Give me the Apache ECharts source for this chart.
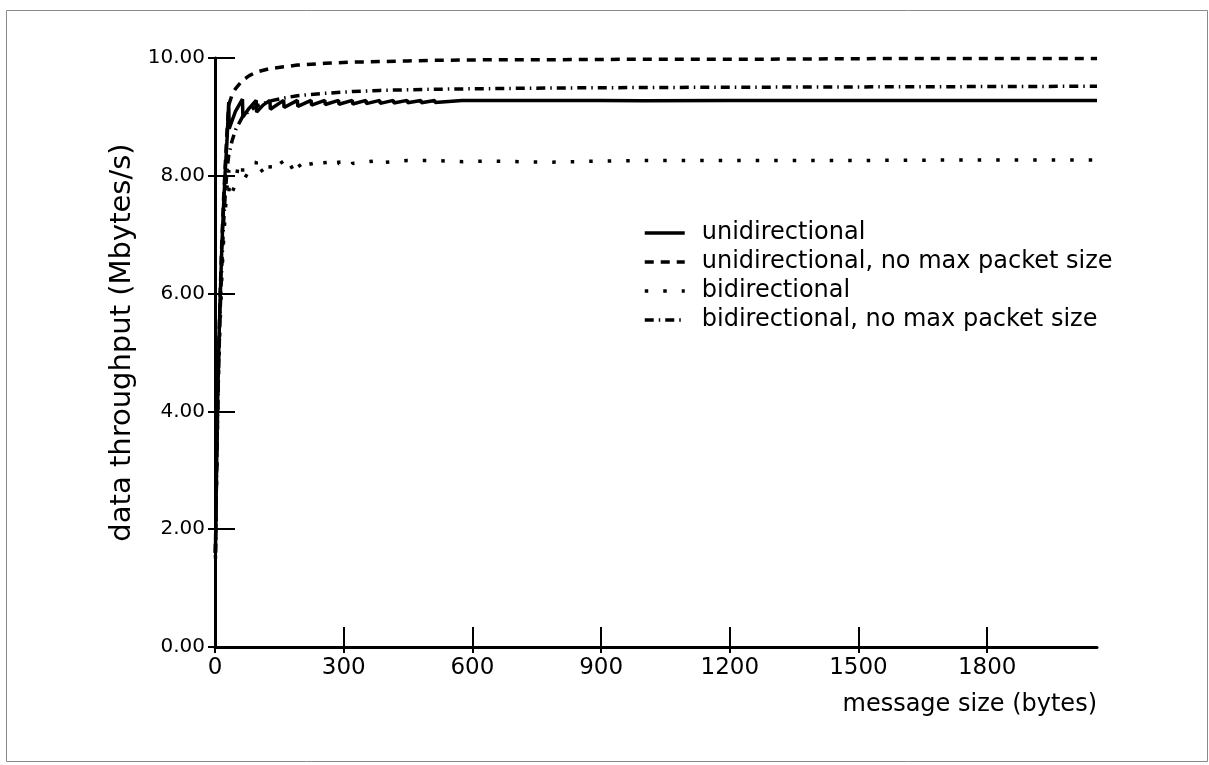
<!DOCTYPE html>
<html>
<head>
<meta charset="utf-8">
<script src="https://cdn.jsdelivr.net/npm/echarts@6/dist/echarts.min.js"></script>
<style>
html,body{margin:0;padding:0;background:#fff;}
#chart{width:1209px;height:765px;}
</style>
</head>
<body>
<div id="chart"></div>
<script>
// ---- data ----
const seriesNames = ['unidirectional', 'unidirectional, no max packet size', 'bidirectional', 'bidirectional, no max packet size'];

const uniX = [1,2,3,4,6,8,10,12,16,20,24,28,32,33,48,64,65,80,96,97,112,128,129,160,161,192,193,224,225,256,257,288,289,320,321,352,353,384,385,416,417,448,449,480,481,512,513,576,577,640,641,704,705,768,769,832,833,896,897,1000,1200,1500,1800,2056];
const uniY = [1.6,2.1,2.7,3.2,4.1,4.8,5.4,5.9,6.8,7.5,8.1,8.6,9.25,8.8,9.1,9.3,9.0,9.15,9.28,9.08,9.2,9.28,9.13,9.28,9.16,9.28,9.18,9.28,9.2,9.28,9.21,9.28,9.215,9.28,9.22,9.28,9.225,9.28,9.23,9.28,9.235,9.28,9.24,9.28,9.24,9.28,9.245,9.28,9.25,9.28,9.25,9.28,9.255,9.28,9.255,9.28,9.26,9.28,9.26,9.276,9.277,9.278,9.28,9.28];

const uniNoMaxX = [1,2,3,4,6,8,10,12,16,20,24,28,32,40,48,64,80,96,128,160,192,256,320,384,448,512,640,768,1024,1280,1536,1792,2056];
const uniNoMaxY = [1.6,2.1,2.7,3.2,4.1,4.8,5.4,6.0,6.9,7.6,8.2,8.75,9.2,9.38,9.48,9.62,9.7,9.76,9.82,9.85,9.88,9.91,9.93,9.94,9.95,9.96,9.97,9.97,9.98,9.98,9.99,9.99,9.99];

const biX = [1,2,3,4,6,8,10,12,16,20,24,28,32,33,48,54,64,65,80,89,96,97,117,128,129,152,160,161,167,190,192,193,221,224,225,256,257,288,289,320,321,384,385,448,449,512,578,640,773,900,1000,1200,1500,1800,2056];
const biY = [1.5,2.0,2.6,3.0,3.9,4.5,5.1,5.5,6.3,6.9,7.4,7.8,8.1,7.62,7.85,8.19,8.22,7.9,8.1,8.19,8.24,8.02,8.13,8.25,8.08,8.21,8.25,8.12,8.10,8.19,8.26,8.15,8.30,8.28,8.17,8.26,8.18,8.26,8.2,8.26,8.21,8.26,8.22,8.26,8.23,8.26,8.24,8.25,8.23,8.25,8.26,8.26,8.26,8.27,8.27];

const biNoMaxX = [1,2,4,8,12,16,20,24,28,32,40,48,64,80,96,128,160,192,256,320,384,448,512,640,768,1024,1280,1536,1792,2056];
const biNoMaxY = [1.6,2.1,3.1,4.6,5.7,6.5,7.2,7.7,8.1,8.35,8.6,8.78,9.0,9.1,9.18,9.27,9.32,9.36,9.4,9.43,9.45,9.46,9.47,9.48,9.49,9.5,9.505,9.51,9.515,9.52];

const xTickValues = [0,300,600,900,1200,1500,1800];

// ---- chart ----
const FONT = 'DejaVu Sans';
const pairs = (xs, ys) => xs.map((x, i) => [x, ys[i]]);

const lineStyles = [
  {color:'#000', width:3.5, type:'solid'},
  {color:'#000', width:3.5, type:[9,7]},
  {color:'#000', width:3.5, type:[3.5,15]},
  {color:'#000', width:3.5, type:[9,5,1.5,5]}
];
const seriesData = [pairs(uniX, uniY), pairs(uniNoMaxX, uniNoMaxY), pairs(biX, biY), pairs(biNoMaxX, biNoMaxY)];

const chart = echarts.init(document.getElementById('chart'), null, {renderer:'canvas'});
const xMin = 0, xMax = 2056;
const option = {
  animation: false,
  backgroundColor: '#fff',
  graphic: [{
    type: 'rect', left: 4, top: 8, z: -10,
    shape: {width: 1201, height: 751},
    style: {fill: 'none', stroke: '#8a8a8a', lineWidth: 1}
  }],
  grid: {left: 215, right: 112, top: 58, bottom: 118, containLabel: false},
  legend: {
    orient: 'vertical', left: 643, top: 221, padding: 0,
    itemWidth: 40, itemHeight: 20, itemGap: 5,
    data: seriesNames,
    itemStyle: {opacity: 0, borderWidth: 0},
    lineStyle: {width: 3.5},
    textStyle: {fontFamily: FONT, fontSize: 24, color: '#000', padding: [0,0,0,12]},
    selectedMode: false
  },
  xAxis: [{
    type: 'value', position: 'bottom', min: xMin, max: xMax, interval: 300,
    name: 'message size (bytes)', nameLocation: 'end', nameGap: 0,
    nameTextStyle: {fontFamily: FONT, fontSize: 24, color: '#000', align: 'right', verticalAlign: 'top', padding: [46,0,0,0]},
    axisLine: {show: true, lineStyle: {color: '#000', width: 3}},
    axisTick: {show: true, inside: true, length: 20, lineStyle: {color: '#000', width: 2}, customValues: xTickValues},
    axisLabel: {fontFamily: FONT, fontSize: 23, color: '#000', margin: 10, customValues: xTickValues, formatter: v => String(v)},
    splitLine: {show: false}
  }, {
    type: 'value', position: 'bottom', min: xMin, max: xMax, interval: 300,
    axisLine: {show: false},
    axisTick: {show: true, inside: false, length: 6, lineStyle: {color: '#000', width: 2}, customValues: xTickValues},
    axisLabel: {show: false},
    splitLine: {show: false}
  }],
  yAxis: [{
    type: 'value', position: 'left', min: 0, max: 10, interval: 2,
    name: 'data throughput (Mbytes/s)', nameLocation: 'middle', nameGap: 63,
    nameTextStyle: {fontFamily: FONT, fontSize: 29, color: '#000', padding: [0,0,0,20]},
    axisLine: {show: true, lineStyle: {color: '#000', width: 3}},
    axisTick: {show: true, inside: true, length: 20, lineStyle: {color: '#000', width: 2}},
    axisLabel: {fontFamily: FONT, fontSize: 20, color: '#000', margin: 10, formatter: v => v.toFixed(2)},
    splitLine: {show: false}
  }, {
    type: 'value', position: 'left', min: 0, max: 10, interval: 2,
    axisLine: {show: false},
    axisTick: {show: true, inside: false, length: 7, lineStyle: {color: '#000', width: 2}},
    axisLabel: {show: false},
    splitLine: {show: false}
  }],
  series: seriesNames.map((name, i) => ({
    name: name, type: 'line', xAxisIndex: 0, yAxisIndex: 0,
    data: seriesData[i], showSymbol: false, symbol: 'none',
    lineStyle: lineStyles[i], itemStyle: {color: '#000'},
    emphasis: {disabled: true}, z: 3
  }))
};
chart.setOption(option);
</script>
</body>
</html>
